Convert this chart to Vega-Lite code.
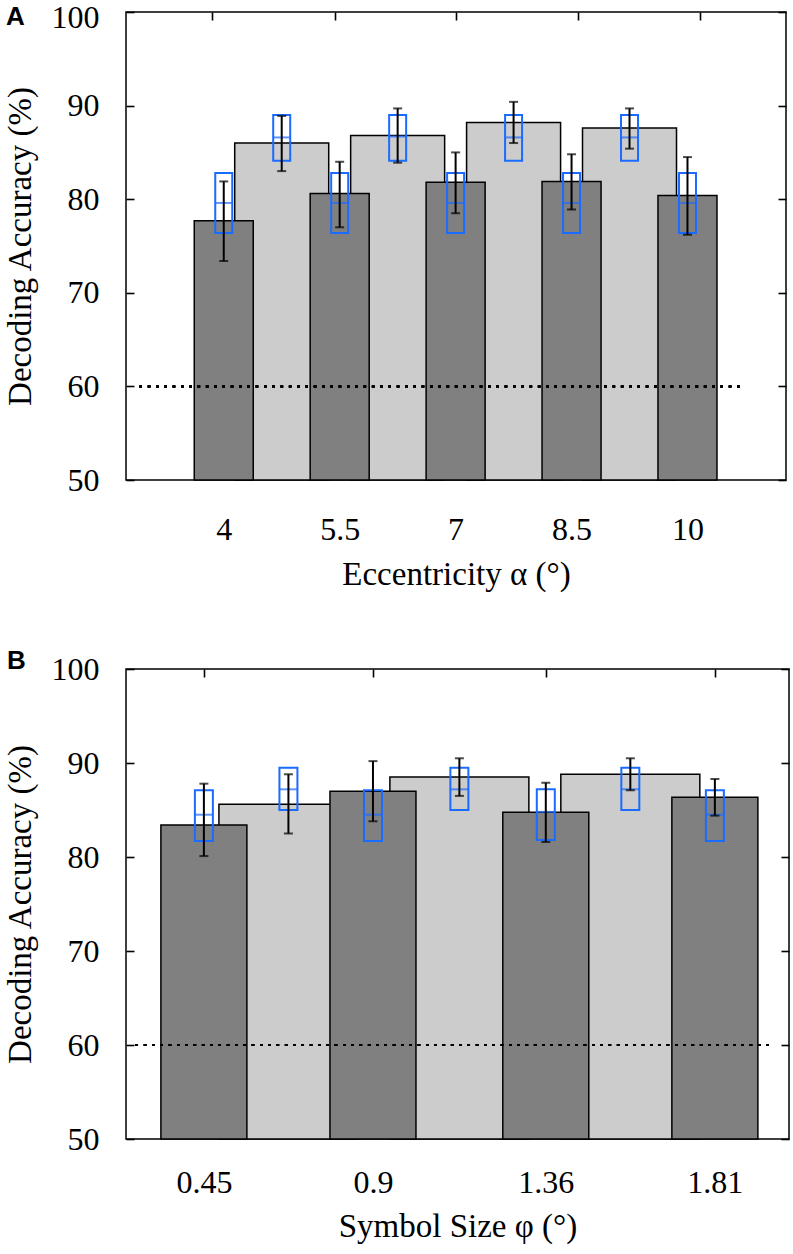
{
  "$schema": "https://vega.github.io/schema/vega-lite/v6.json",
  "padding": {"left": 3, "top": 0, "right": 0, "bottom": 3},
  "background": "white",
  "spacing": 55,
  "config": {
    "view": {"stroke": "black", "strokeWidth": 1.5},
    "font": "Liberation Serif",
    "axis": {
      "labelFont": "Liberation Serif", "titleFont": "Liberation Serif",
      "labelFontSize": 32, "titleFontSize": 33, "titleFontWeight": "normal",
      "labelColor": "black", "titleColor": "black", "tickColor": "black",
      "tickWidth": 1.6, "grid": false, "domain": false, "labelFlush": false, "labelOverlap": false
    }
  },
  "vconcat": [
    {
      "title": {"text": "A", "anchor": "start", "frame": "bounds", "font": "Liberation Sans", "fontSize": 26, "fontWeight": "bold", "color": "black", "baseline": "top", "offset": 0, "dy": 29, "dx": 2},
      "width": 660, "height": 468,
      "data": {"values": [
        {"pos": 4, "type": "dark", "acc": 77.7, "err_lo": 73.4, "err_hi": 81.9, "box_lo": 76.4, "box_mid": 79.6, "box_hi": 82.8},
        {"pos": 5.5, "type": "dark", "acc": 80.6, "err_lo": 77.0, "err_hi": 84.0, "box_lo": 76.4, "box_mid": 79.6, "box_hi": 82.8},
        {"pos": 7, "type": "dark", "acc": 81.8, "err_lo": 78.5, "err_hi": 85.0, "box_lo": 76.4, "box_mid": 79.6, "box_hi": 82.8},
        {"pos": 8.5, "type": "dark", "acc": 81.9, "err_lo": 78.9, "err_hi": 84.8, "box_lo": 76.4, "box_mid": 79.6, "box_hi": 82.8},
        {"pos": 10, "type": "dark", "acc": 80.4, "err_lo": 76.2, "err_hi": 84.5, "box_lo": 76.4, "box_mid": 79.6, "box_hi": 82.8},
        {"pos": 4.75, "type": "light", "acc": 86.0, "err_lo": 83.0, "err_hi": 88.9, "box_lo": 84.1, "box_mid": 86.6, "box_hi": 89.0},
        {"pos": 6.25, "type": "light", "acc": 86.8, "err_lo": 83.9, "err_hi": 89.7, "box_lo": 84.1, "box_mid": 86.7, "box_hi": 89.0},
        {"pos": 7.75, "type": "light", "acc": 88.2, "err_lo": 86.0, "err_hi": 90.4, "box_lo": 84.1, "box_mid": 86.6, "box_hi": 89.0},
        {"pos": 9.25, "type": "light", "acc": 87.6, "err_lo": 85.4, "err_hi": 89.7, "box_lo": 84.1, "box_mid": 86.6, "box_hi": 89.0}
      ]},
      "resolve": {"axis": {"x": "independent", "y": "independent"}},
      "layer": [
        {
          "transform": [{"filter": "datum.type == 'light'"}],
          "mark": {"type": "bar", "width": 94, "fill": "#cccccc", "stroke": "black", "strokeWidth": 1.5},
          "encoding": {
            "x": {"field": "pos", "type": "quantitative", "scale": {"domain": [2.8, 11.21], "nice": false, "zero": false},
                  "axis": {"orient": "bottom", "values": [4, 5.5, 7, 8.5, 10], "labelExpr": "'' + datum.value", "ticks": false, "labelPadding": 34, "title": "Eccentricity α (°)", "titlePadding": 13}},
            "y": {"field": "acc", "type": "quantitative", "scale": {"domain": [50, 100], "nice": false, "zero": false},
                  "axis": {"orient": "left", "values": [50, 60, 70, 80, 90, 100], "tickSize": -8, "labelPadding": 35, "labelOffset": {"condition": {"test": "datum.value == 100", "value": 5}, "value": 0}, "title": "Decoding Accuracy (%)", "titlePadding": 14}},
            "y2": {"datum": 50}
          }
        },
        {
          "transform": [{"filter": "datum.type == 'dark'"}],
          "mark": {"type": "bar", "width": 59, "fill": "#808080", "stroke": "black", "strokeWidth": 1.5},
          "encoding": {
            "x": {"field": "pos", "type": "quantitative", "axis": {"orient": "top", "values": [3.847, 5.434, 7.009, 8.583, 10.157], "labels": false, "tickSize": -8, "title": null}},
            "y": {"field": "acc", "type": "quantitative", "axis": {"orient": "right", "values": [50, 60, 70, 80, 90, 100], "labels": false, "tickSize": -8, "title": null}},
            "y2": {"datum": 50}
          }
        },
        {
          "mark": {"type": "rule", "color": "black", "strokeWidth": 2, "strokeDash": [2.5, 5.8]},
          "encoding": {
            "x": {"datum": 2.91, "type": "quantitative", "axis": null},
            "x2": {"datum": 10.73},
            "y": {"datum": 60, "type": "quantitative", "axis": null}
          }
        },
        {
          "mark": {"type": "bar", "width": 17, "fill": "transparent", "stroke": "#1a6bff", "strokeWidth": 2},
          "encoding": {
            "x": {"field": "pos", "type": "quantitative", "axis": null},
            "y": {"field": "box_lo", "type": "quantitative", "axis": null},
            "y2": {"field": "box_hi"}
          }
        },
        {
          "mark": {"type": "tick", "orient": "horizontal", "size": 17, "thickness": 2, "color": "#1a6bff"},
          "encoding": {
            "x": {"field": "pos", "type": "quantitative", "axis": null},
            "y": {"field": "box_mid", "type": "quantitative", "axis": null}
          }
        },
        {
          "mark": {"type": "rule", "color": "black", "strokeWidth": 2},
          "encoding": {
            "x": {"field": "pos", "type": "quantitative", "axis": null},
            "y": {"field": "err_lo", "type": "quantitative", "axis": null},
            "y2": {"field": "err_hi"}
          }
        },
        {
          "mark": {"type": "tick", "orient": "horizontal", "size": 9, "thickness": 2, "color": "black"},
          "encoding": {
            "x": {"field": "pos", "type": "quantitative", "axis": null},
            "y": {"field": "err_lo", "type": "quantitative", "axis": null}
          }
        },
        {
          "mark": {"type": "tick", "orient": "horizontal", "size": 9, "thickness": 2, "color": "black"},
          "encoding": {
            "x": {"field": "pos", "type": "quantitative", "axis": null},
            "y": {"field": "err_hi", "type": "quantitative", "axis": null}
          }
        }
      ]
    },
    {
      "title": {"text": "B", "anchor": "start", "frame": "bounds", "font": "Liberation Sans", "fontSize": 26, "fontWeight": "bold", "color": "black", "baseline": "top", "offset": 0, "dy": 21, "dx": 3},
      "width": 663, "height": 470,
      "data": {"values": [
        {"pos": 0.45, "type": "dark", "acc": 83.4, "err_lo": 80.1, "err_hi": 87.8, "box_lo": 81.7, "box_mid": 84.5, "box_hi": 87.1},
        {"pos": 0.9, "type": "dark", "acc": 87.0, "err_lo": 83.8, "err_hi": 90.2, "box_lo": 81.7, "box_mid": 84.5, "box_hi": 87.1},
        {"pos": 1.36, "type": "dark", "acc": 84.75, "err_lo": 81.6, "err_hi": 87.9, "box_lo": 81.8, "box_mid": 84.8, "box_hi": 87.2},
        {"pos": 1.81, "type": "dark", "acc": 86.35, "err_lo": 84.4, "err_hi": 88.3, "box_lo": 81.7, "box_mid": 84.5, "box_hi": 87.1},
        {"pos": 0.675, "type": "light", "acc": 85.6, "err_lo": 82.5, "err_hi": 88.8, "box_lo": 85.0, "box_mid": 87.2, "box_hi": 89.5},
        {"pos": 1.13, "type": "light", "acc": 88.5, "err_lo": 86.5, "err_hi": 90.5, "box_lo": 85.0, "box_mid": 87.2, "box_hi": 89.5},
        {"pos": 1.585, "type": "light", "acc": 88.8, "err_lo": 87.1, "err_hi": 90.5, "box_lo": 85.0, "box_mid": 87.2, "box_hi": 89.5}
      ]},
      "resolve": {"axis": {"x": "independent", "y": "independent"}},
      "layer": [
        {
          "transform": [{"filter": "datum.type == 'light'"}],
          "mark": {"type": "bar", "width": 139, "fill": "#cccccc", "stroke": "black", "strokeWidth": 1.5},
          "encoding": {
            "x": {"field": "pos", "type": "quantitative", "scale": {"domain": [0.256, 1.994], "nice": false, "zero": false},
                  "axis": {"orient": "bottom", "values": [0.45, 0.9, 1.36, 1.81], "labelExpr": "'' + datum.value", "ticks": false, "labelPadding": 28, "title": "Symbol Size φ (°)", "titlePadding": 12}},
            "y": {"field": "acc", "type": "quantitative", "scale": {"domain": [50, 100], "nice": false, "zero": false},
                  "axis": {"orient": "left", "values": [50, 60, 70, 80, 90, 100], "tickSize": -8, "labelPadding": 35, "title": "Decoding Accuracy (%)", "titlePadding": 14}},
            "y2": {"datum": 50}
          }
        },
        {
          "transform": [{"filter": "datum.type == 'dark'"}],
          "mark": {"type": "bar", "width": 86, "fill": "#808080", "stroke": "black", "strokeWidth": 1.5},
          "encoding": {
            "x": {"field": "pos", "type": "quantitative", "axis": {"orient": "top", "values": [0.45, 0.9, 1.36, 1.81], "labels": false, "tickSize": -8, "title": null}},
            "y": {"field": "acc", "type": "quantitative", "axis": {"orient": "right", "values": [50, 60, 70, 80, 90, 100], "labels": false, "tickSize": -8, "title": null}},
            "y2": {"datum": 50}
          }
        },
        {
          "mark": {"type": "rule", "color": "black", "strokeWidth": 2, "strokeDash": [2.5, 5.8]},
          "encoding": {
            "x": {"datum": 0.268, "type": "quantitative", "axis": null},
            "x2": {"datum": 1.965},
            "y": {"datum": 60, "type": "quantitative", "axis": null}
          }
        },
        {
          "mark": {"type": "bar", "width": 18, "fill": "transparent", "stroke": "#1a6bff", "strokeWidth": 2},
          "encoding": {
            "x": {"field": "pos", "type": "quantitative", "axis": null},
            "y": {"field": "box_lo", "type": "quantitative", "axis": null},
            "y2": {"field": "box_hi"}
          }
        },
        {
          "mark": {"type": "tick", "orient": "horizontal", "size": 18, "thickness": 2, "color": "#1a6bff"},
          "encoding": {
            "x": {"field": "pos", "type": "quantitative", "axis": null},
            "y": {"field": "box_mid", "type": "quantitative", "axis": null}
          }
        },
        {
          "mark": {"type": "rule", "color": "black", "strokeWidth": 2},
          "encoding": {
            "x": {"field": "pos", "type": "quantitative", "axis": null},
            "y": {"field": "err_lo", "type": "quantitative", "axis": null},
            "y2": {"field": "err_hi"}
          }
        },
        {
          "mark": {"type": "tick", "orient": "horizontal", "size": 9, "thickness": 2, "color": "black"},
          "encoding": {
            "x": {"field": "pos", "type": "quantitative", "axis": null},
            "y": {"field": "err_lo", "type": "quantitative", "axis": null}
          }
        },
        {
          "mark": {"type": "tick", "orient": "horizontal", "size": 9, "thickness": 2, "color": "black"},
          "encoding": {
            "x": {"field": "pos", "type": "quantitative", "axis": null},
            "y": {"field": "err_hi", "type": "quantitative", "axis": null}
          }
        }
      ]
    }
  ]
}
